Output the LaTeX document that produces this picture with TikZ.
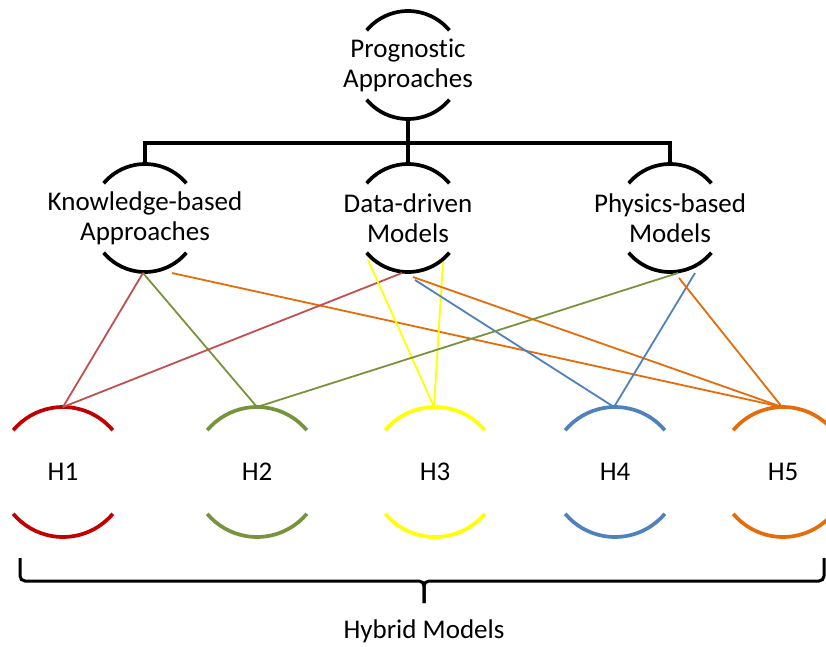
\documentclass[tikz,border=0pt]{standalone}
\usepackage{fontspec}
\setmainfont{Carlito}[Ligatures=NoCommon]
\usetikzlibrary{calc}
\definecolor{hred}{HTML}{C00000}
\definecolor{hgreen}{HTML}{77933C}
\definecolor{hyellow}{HTML}{FFFF00}
\definecolor{hblue}{HTML}{4F81BD}
\definecolor{horange}{HTML}{E46C0A}
\definecolor{lred}{HTML}{C0504D}
\definecolor{lgreen}{HTML}{77933C}
\definecolor{lblue}{HTML}{4F81BD}
\definecolor{lorange}{HTML}{E46C0A}
% two facing arcs around a centre: #1 node, #2 radius, #3 colour
\newcommand{\ringarcs}[3]{%
  \draw[arcline, draw=#3] ($(#1)+(-40:#2)$) arc[start angle=-40, end angle=-140, radius=#2];
  \draw[arcline, draw=#3] ($(#1)+(40:#2)$) arc[start angle=40, end angle=140, radius=#2];
}
\begin{document}
\begin{tikzpicture}[x=1pt, y=-1pt,
  lbl/.style={draw=none, align=center, inner sep=0pt,
    font=\fontsize{27}{30}\selectfont},
  arcline/.style={line width=3.7pt},
  treeline/.style={line width=3.2pt, black},
  conn/.style={line width=1.8pt},
  bracket/.style={line width=3pt, black, rounded corners=5pt}
]
\useasboundingbox (0,0) rectangle (826,646);
\clip (0,0) rectangle (826,646);

% category nodes
\node[lbl] (pa) at (408,65)  {Prognostic\\Approaches};
\node[lbl] (kb) at (145,218) {Knowledge-based\\Approaches};
\node[lbl] (dd) at (408,218) {Data-driven\\Models};
\node[lbl] (pb) at (670,218) {Physics-based\\Models};

% hybrid nodes
\node[lbl] (h1) at (63,472)  {H1};
\node[lbl] (h2) at (257,472) {H2};
\node[lbl] (h3) at (435,472) {H3};
\node[lbl] (h4) at (615,472) {H4};
\node[lbl] (h5) at (783,472) {H5};

% ring arcs
\ringarcs{pa}{54}{black}
\ringarcs{kb}{54}{black}
\ringarcs{dd}{54}{black}
\ringarcs{pb}{54}{black}
\ringarcs{h1}{65}{hred}
\ringarcs{h2}{65}{hgreen}
\ringarcs{h3}{65}{hyellow}
\ringarcs{h4}{65}{hblue}
\ringarcs{h5}{65}{horange}

% tree below the root
\coordinate (pa-s) at ($(pa)+(0,54)$);
\coordinate (kb-n) at ($(kb)+(0,-54)$);
\coordinate (dd-n) at ($(dd)+(0,-54)$);
\coordinate (pb-n) at ($(pb)+(0,-54)$);
\coordinate (bar) at ($(pa)+(0,78)$);
\draw[treeline] (pa-s) -- (bar) -- (dd-n);
\draw[treeline] (kb-n) |- (bar) -| (pb-n);

% start points on the category rings
\coordinate (kb-s)  at ($(kb)+(-2,55)$);
\coordinate (kb-r)  at ($(kb)+(27,55)$);
\coordinate (dd-s)  at ($(dd)+(-6,55)$);
\coordinate (dd-yl) at ($(dd)+(-40,42)$);
\coordinate (dd-yr) at ($(dd)+(35,44)$);
\coordinate (dd-b)  at ($(dd)+(7,62)$);
\coordinate (dd-o)  at ($(dd)+(5,59)$);
\coordinate (pb-g)  at ($(pb)+(8,55)$);
\coordinate (pb-b)  at ($(pb)+(25,55)$);
\coordinate (pb-o)  at ($(pb)+(9,60)$);

% tops of the hybrid rings
\coordinate (h1-n) at ($(h1)+(0,-65)$);
\coordinate (h2-n) at ($(h2)+(0,-65)$);
\coordinate (h3-n) at ($(h3)+(-1,-65)$);
\coordinate (h4-n) at ($(h4)+(-1,-65)$);
\coordinate (h5-n) at ($(h5)+(-1,-65)$);

% connectors
\draw[conn, lred]    (kb-s) -- (h1-n);
\draw[conn, lgreen]  (kb-s) -- (h2-n);
\draw[conn, lorange] (kb-r) -- (h5-n);
\draw[conn, lred]    (dd-s) -- (h1-n);
\draw[conn, hyellow] (dd-yl) -- (h3-n);
\draw[conn, hyellow] (dd-yr) -- (h3-n);
\draw[conn, lblue]   (dd-b) -- (h4-n);
\draw[conn, lorange] (dd-o) -- (h5-n);
\draw[conn, lgreen]  (pb-g) -- (h2-n);
\draw[conn, lblue]   (pb-b) -- (h4-n);
\draw[conn, lorange] (pb-o) -- (h5-n);

% brace under the hybrid models
\coordinate (br-l) at (20,558);
\coordinate (br-r) at (824,558);
\coordinate (br-m) at (424,581);
\coordinate (br-t) at (424,603);
\draw[bracket] (br-l) |- (br-m) -- (br-t);
\draw[bracket] (br-r) |- (br-m) -- (br-t);
\node[lbl] (hm) at (424,631) {Hybrid Models};
\end{tikzpicture}
\end{document}
